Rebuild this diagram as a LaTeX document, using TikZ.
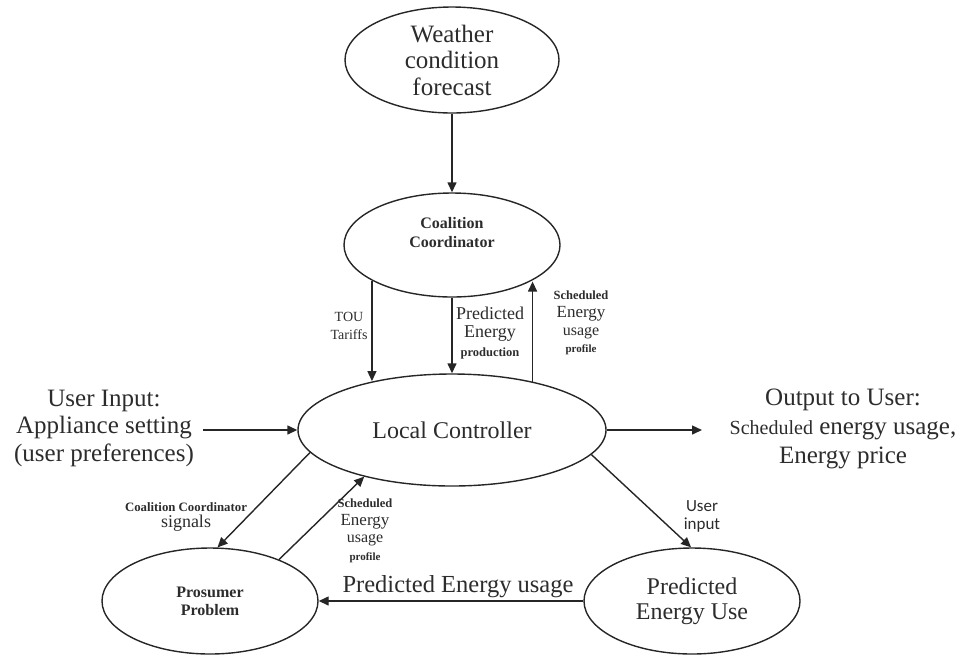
\documentclass[tikz,border=0pt]{standalone}
\usepackage{fontspec}
\setmainfont{Liberation Serif}
\newfontfamily\labelsans{Carlito}
\usetikzlibrary{arrows.meta,shapes.geometric}
\definecolor{ink}{HTML}{262626}
\definecolor{txt}{HTML}{2C2C2C}
\begin{document}
\begin{tikzpicture}[x=1pt,y=-1pt,
  oval/.style={ellipse,draw=ink,line width=1.4pt,inner sep=0pt,text=txt,align=center},
  flow/.style={draw=ink,line width=1.4pt,-{Triangle[length=10pt,width=9pt]}},
  txtnode/.style={text=txt,align=center,inner sep=0pt},
]
\useasboundingbox (0,0) rectangle (966,657);

% ellipses
\node[oval,minimum width=214pt,minimum height=106pt,
      font=\fontsize{25}{26.5}\selectfont] (W) at (452,60)
  {Weather\\condition\\forecast};
\node[oval,minimum width=216pt,minimum height=104pt,text depth=26pt,
      font=\bfseries\fontsize{16}{19}\selectfont] (C) at (452,245)
  {Coalition\\Coordinator};
\node[oval,minimum width=308pt,minimum height=112pt,
      font=\fontsize{24}{26}\selectfont] (LC) at (452,430)
  {Local Controller};
\node[oval,minimum width=216pt,minimum height=106pt,
      font=\bfseries\fontsize{16}{18}\selectfont] (P) at (210,601)
  {Prosumer\\Problem};
\node[oval,minimum width=216pt,minimum height=106pt,
      font=\fontsize{24}{25}\selectfont] (U) at (692,601)
  {Predicted\\Energy Use};

% free text at the sides
\node[txtnode,font=\fontsize{25}{27.5}\selectfont] (inTxt) at (104,428)
  {User Input:\\Appliance setting\\(user preferences)};
\node[txtnode,font=\fontsize{25}{29}\selectfont] (outTxt) at (843,429)
  {Output to User:\\{\fontsize{20}{29}\selectfont Scheduled} energy usage,\\Energy price};
\coordinate (inStart) at (203,430);
\coordinate (outEnd) at (702,430);

% connectors
\draw[flow] (W.south) -- (C.north);
\draw[flow] (C.204.2) -- (C.204.2 |- LC.148.2);
\draw[flow] (C.south) -- (C.south |- LC.north);
\draw[flow] (LC.31.8) -- (LC.31.8 |- C.335.2);
\draw[flow] (inStart) -- (LC.west);
\draw[flow] (LC.east) -- (outEnd);
\draw[flow] (LC.189.5) -- (P.82.5);
\draw[flow] (P.31.8) -- (LC.208.8);
\draw[flow] (LC.350.9) -- (U.91);
\draw[flow] (U.west) -- (P.east);

% connector labels
\node[txtnode,font=\fontsize{14}{18}\selectfont] (touLbl) at (349,326)
  {TOU\\Tariffs};
\node[txtnode,font=\fontsize{18}{18.5}\selectfont] (prodLbl) at (490,333)
  {Predicted\\Energy\\{\bfseries\fontsize{12.5}{14}\selectfont production}};
\node[txtnode,font=\fontsize{17}{17.7}\selectfont] (schedLbl) at (581,323)
  {{\bfseries\fontsize{12.5}{14}\selectfont Scheduled}\\Energy\\{\fontsize{16}{17}\selectfont usage}\\{\bfseries\fontsize{11}{12}\selectfont profile}};
\node[txtnode,font=\fontsize{18}{16}\selectfont] (sigLbl) at (186,517)
  {{\bfseries\fontsize{12.8}{14}\selectfont Coalition Coordinator}\\signals};
\node[txtnode,font=\fontsize{17}{17.5}\selectfont] (schedLbl2) at (365,531)
  {{\bfseries\fontsize{12.5}{14}\selectfont Scheduled}\\Energy\\{\fontsize{16}{17}\selectfont usage}\\{\bfseries\fontsize{11}{12}\selectfont profile}};
\node[txtnode,font=\labelsans\fontsize{17}{18}\selectfont] (uiLbl) at (702,516)
  {User\\input};
\node[txtnode,font=\fontsize{24.5}{26}\selectfont] (peuLbl) at (458,587)
  {Predicted Energy usage};
\end{tikzpicture}
\end{document}
